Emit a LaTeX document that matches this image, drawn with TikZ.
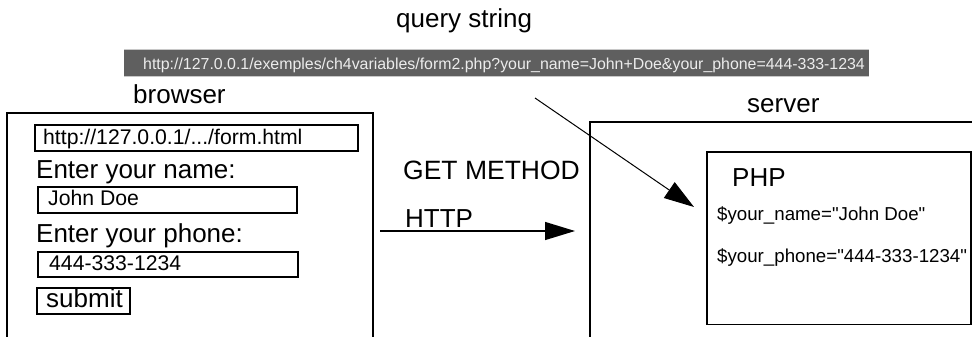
\documentclass[tikz,border=0pt]{standalone}
\usepackage{fontspec}
\setmainfont{Liberation Sans}
\newfontfamily\plainf{Liberation Sans}
\usetikzlibrary{arrows.meta}
\definecolor{bargray}{HTML}{5F5F5F}
\definecolor{barlight}{HTML}{C8C8C8}
\definecolor{bartext}{HTML}{ECECEC}
\newcommand{\fs}[1]{\fontsize{#1pt}{#1pt}\selectfont}
\tikzset{
  x=1pt,y=-1pt,
  lab/.style={anchor=base west,inner sep=0pt,text=black},
  field/.style={draw=black,line width=1.6pt,anchor=north west,inner sep=0pt,outer sep=0pt},
  wall/.style={draw=black,line width=1.6pt},
  flow/.style={draw=black,line width=1pt,-{Triangle[length=30pt,width=19pt]}},
  flowb/.style={draw=black,line width=1.3pt,-{Triangle[length=30pt,width=18pt]}},
}
\begin{document}
\begin{tikzpicture}
\useasboundingbox (0,0) rectangle (972,337);
% query string label and URL bar
\node[lab,font=\fs{26}] (qs) at (396,28) {query string};
\fill[barlight] (124,49) rectangle (869,77);
\fill[bargray] (124,50) rectangle (869,76);
\node[lab,text=bartext,font=\fs{15.9}] (url) at (143,69.5) {http://127.0.0.1/exemples/ch4variables/form2.php?your\_name=John+Doe\&your\_phone=444-333-1234};
% browser
\node[lab,font=\fs{26}] (browserlab) at (133,103) {browser};
\coordinate (b1) at (7,337); \coordinate (b2) at (7,113); \coordinate (b3) at (373,113); \coordinate (b4) at (373,337);
\draw[wall] (b1) -- (b2) -- (b3) -- (b4);
\node[field,minimum width=323pt,minimum height=25.7pt] (urlbox) at (35,125) {};
\node[lab,font=\fs{21.2}] (urltext) at (43,144) {http://127.0.0.1/.../form.html};
\node[lab,font=\fs{26}] (ename) at (36,178) {Enter your name:};
\node[field,minimum width=259pt,minimum height=26pt] (namebox) at (38,187) {};
\node[lab,font=\fs{21.2}] (nametext) at (48,205) {John Doe};
\node[lab,font=\fs{26}] (ephone) at (36,242) {Enter your phone:};
\node[field,minimum width=260pt,minimum height=25pt] (phonebox) at (38,252) {};
\node[lab,font=\fs{21.2}] (phonetext) at (49,270) {444-333-1234};
\node[field,minimum width=93pt,minimum height=26pt] (submitbox) at (37,288) {};
\node[lab,font=\fs{26}] (submit) at (46,307) {submit};
% middle
\node[lab,font=\fs{26.5}] (get) at (403,179) {GET METHOD};
\node[lab,font=\fs{26}] (http) at (405,227) {HTTP};
\coordinate (a1) at (380,231); \coordinate (a2) at (575,231);
\draw[flowb] (a1) -- (a2);
% server
\node[lab,font=\fs{26}] (serverlab) at (747,112) {server};
\coordinate (s1) at (590,337); \coordinate (s2) at (590,122); \coordinate (s3) at (972,122);
\draw[wall] (s1) -- (s2) -- (s3);
\node[field,minimum width=264pt,minimum height=172.5pt] (phpbox) at (707,152) {};
\node[lab,font=\fs{26}] (php) at (732,186) {PHP};
\node[lab,font=\plainf\fs{18.7}] (v1) at (717,220) {\$your\_name="John Doe"};
\node[lab,font=\plainf\fs{18.7}] (v2) at (717,262) {\$your\_phone="444-333-1234"};
% query arrow
\coordinate (q1) at (535,98); \coordinate (q2) at (694,207);
\draw[flow] (q1) -- (q2);
\end{tikzpicture}
\end{document}
